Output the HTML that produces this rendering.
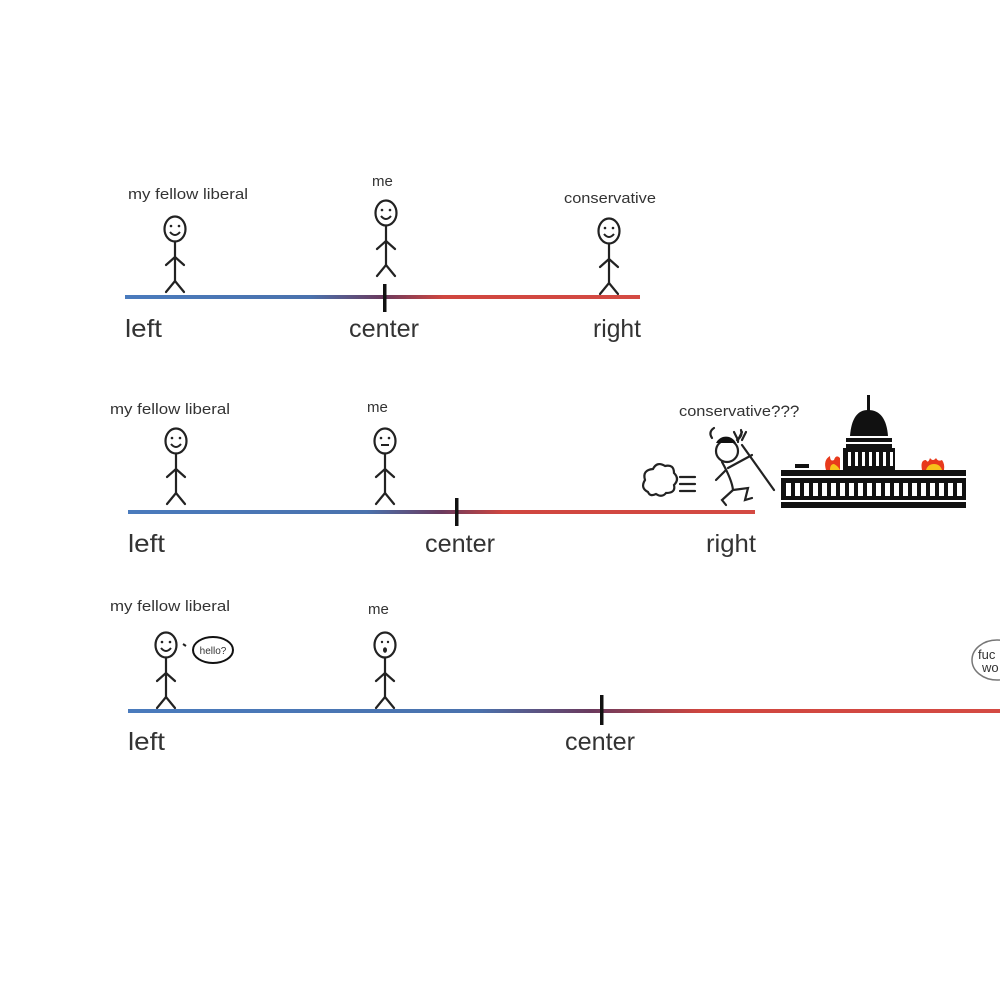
<!DOCTYPE html>
<html><head><meta charset="utf-8"><style>
html,body{margin:0;padding:0;background:#fff;}
svg{display:block}
text{font-family:"Liberation Sans",sans-serif;fill:#333}
</style></head><body>
<svg width="1000" height="1000" viewBox="0 0 1000 1000" xmlns="http://www.w3.org/2000/svg">
<defs>
<linearGradient id="g1" gradientUnits="userSpaceOnUse" x1="125" y1="0" x2="640" y2="0">
<stop offset="0" stop-color="#4a7bbd"/><stop offset="0.36" stop-color="#4a72ad"/><stop offset="0.5" stop-color="#6a3a5e"/><stop offset="0.62" stop-color="#d0463f"/><stop offset="1" stop-color="#d44a43"/></linearGradient>
<linearGradient id="g2" gradientUnits="userSpaceOnUse" x1="128" y1="0" x2="755" y2="0">
<stop offset="0" stop-color="#4a7bbd"/><stop offset="0.38" stop-color="#4a72ad"/><stop offset="0.5" stop-color="#6a3a5e"/><stop offset="0.6" stop-color="#d0463f"/><stop offset="1" stop-color="#d44a43"/></linearGradient>
<linearGradient id="g3" gradientUnits="userSpaceOnUse" x1="128" y1="0" x2="1000" y2="0">
<stop offset="0" stop-color="#4a7bbd"/><stop offset="0.4" stop-color="#4a72ad"/><stop offset="0.53" stop-color="#6a3a5e"/><stop offset="0.66" stop-color="#d0463f"/><stop offset="1" stop-color="#d44a43"/></linearGradient>
<g id="fig" stroke="#222" stroke-width="2.2" fill="none" stroke-linecap="round">
<ellipse cx="0" cy="0" rx="10.5" ry="12.5"/>
<line x1="0" y1="12.5" x2="0" y2="52"/>
<path d="M-9 36 L0 28 L9 36"/>
<path d="M-9 63 L0 52 L9 63"/>
</g>
<path id="smile" d="M-5 3 Q0 9 5 3" stroke="#222" stroke-width="2" fill="none"/>
</defs>

<!-- Panel 1 -->
<text x="128" y="199" font-size="15" textLength="120" lengthAdjust="spacingAndGlyphs">my fellow liberal</text>
<text x="372" y="186" font-size="15">me</text>
<text x="564" y="203" font-size="15" textLength="92" lengthAdjust="spacingAndGlyphs">conservative</text>
<g transform="translate(175,229)"><use href="#fig"/><use href="#smile"/><circle cx="-4" cy="-3" r="1.3" fill="#222"/><circle cx="4" cy="-3" r="1.3" fill="#222"/></g>
<g transform="translate(386,213)"><use href="#fig"/><use href="#smile"/><circle cx="-4" cy="-3" r="1.3" fill="#222"/><circle cx="4" cy="-3" r="1.3" fill="#222"/></g>
<g transform="translate(609,231)"><use href="#fig"/><use href="#smile"/><circle cx="-4" cy="-3" r="1.3" fill="#222"/><circle cx="4" cy="-3" r="1.3" fill="#222"/></g>
<rect x="125" y="295" width="515" height="4" fill="url(#g1)"/>
<rect x="383" y="284" width="3.5" height="28" fill="#111"/>
<text x="125" y="337" font-size="25" textLength="37" lengthAdjust="spacingAndGlyphs">left</text>
<text x="349" y="337" font-size="25" textLength="70" lengthAdjust="spacingAndGlyphs">center</text>
<text x="593" y="337" font-size="25" textLength="48" lengthAdjust="spacingAndGlyphs">right</text>

<!-- Panel 2 -->
<text x="110" y="414" font-size="15" textLength="120" lengthAdjust="spacingAndGlyphs">my fellow liberal</text>
<text x="367" y="412" font-size="15">me</text>
<text x="679" y="416" font-size="15" textLength="92" lengthAdjust="spacingAndGlyphs">conservative</text>
<text x="771" y="417" font-size="17" font-family="Liberation Serif">???</text>
<g transform="translate(176,441)"><use href="#fig"/><use href="#smile"/><circle cx="-4" cy="-3" r="1.3" fill="#222"/><circle cx="4" cy="-3" r="1.3" fill="#222"/></g>
<g transform="translate(385,441)"><use href="#fig"/><line x1="-4" y1="4" x2="4" y2="4" stroke="#222" stroke-width="2"/><circle cx="-4" cy="-3" r="1.3" fill="#222"/><circle cx="4" cy="-3" r="1.3" fill="#222"/></g>
<rect x="128" y="510" width="627" height="4" fill="url(#g2)"/>
<rect x="455" y="498" width="3.5" height="28" fill="#111"/>
<text x="128" y="552" font-size="25" textLength="37" lengthAdjust="spacingAndGlyphs">left</text>
<text x="425" y="552" font-size="25" textLength="70" lengthAdjust="spacingAndGlyphs">center</text>
<text x="706" y="552" font-size="25" textLength="50" lengthAdjust="spacingAndGlyphs">right</text>
<!-- cloud + running devil -->
<g stroke="#222" stroke-width="2.2" fill="none" stroke-linecap="round">
<path d="M648 492 q-8 -4 -3 -12 q-3 -10 8 -11 q4 -8 12 -3 q9 -2 9 7 q6 6 0 12 q2 8 -8 8 q-4 5 -10 1 q-6 3 -8 -2 z"/>
<path d="M680 477 h15 M680 484 h15 M680 491 h15"/>
<circle cx="727" cy="451" r="11"/>
<path d="M722 462 Q732 480 733 490 M733 490 L722 500 L726 505 M733 490 L748 488 L745 500 L752 498"/>
<path d="M726 470 L716 480 M728 468 L752 455"/>
<path d="M742 445 L774 490"/>
<path d="M734 432 l4 8 l4 -8 M738 440 l0 2 M746 432 l-4 8"/>
<path d="M712 438 q-4 -6 2 -10 M737 440 q6 -4 4 -10"/>
</g>
<path d="M716 443 a11 11 0 0 1 20 0 z" fill="#111"/>
<!-- capitol -->
<g fill="#111">
<rect x="867" y="395" width="3" height="16"/>
<path d="M850 436 Q852 410 868 410 Q886 410 888 436 Z"/>
<rect x="846" y="438" width="46" height="4"/>
<rect x="846" y="444" width="46" height="4"/>
<rect x="843" y="448" width="52" height="22"/>
<rect x="781" y="470" width="185" height="6"/>
<rect x="781" y="478" width="185" height="22"/>
<rect x="781" y="502" width="185" height="6"/>
<rect x="795" y="464" width="14" height="4"/>
</g>
<g fill="#fff">
<rect x="848" y="452" width="3" height="14"/><rect x="855" y="452" width="3" height="14"/><rect x="862" y="452" width="3" height="14"/><rect x="869" y="452" width="3" height="14"/><rect x="876" y="452" width="3" height="14"/><rect x="883" y="452" width="3" height="14"/><rect x="890" y="452" width="3" height="14"/>
<rect x="786" y="483" width="5" height="13"/><rect x="795" y="483" width="5" height="13"/><rect x="804" y="483" width="5" height="13"/><rect x="813" y="483" width="5" height="13"/><rect x="822" y="483" width="5" height="13"/><rect x="831" y="483" width="5" height="13"/><rect x="840" y="483" width="5" height="13"/><rect x="849" y="483" width="5" height="13"/><rect x="858" y="483" width="5" height="13"/><rect x="867" y="483" width="5" height="13"/><rect x="876" y="483" width="5" height="13"/><rect x="885" y="483" width="5" height="13"/><rect x="894" y="483" width="5" height="13"/><rect x="903" y="483" width="5" height="13"/><rect x="912" y="483" width="5" height="13"/><rect x="921" y="483" width="5" height="13"/><rect x="930" y="483" width="5" height="13"/><rect x="939" y="483" width="5" height="13"/><rect x="948" y="483" width="5" height="13"/><rect x="957" y="483" width="5" height="13"/>
</g>
<path d="M826 470 q-3 -10 4 -14 q0 6 4 4 q2 -6 6 -2 v12 z" fill="#e83a1c"/>
<path d="M830 470 q0 -6 4 -6 q4 2 6 6 z" fill="#f7c21a"/>
<path d="M922 470 q-2 -10 4 -10 q2 4 4 -2 q3 4 6 0 q2 4 6 2 q3 4 2 10 z" fill="#e83a1c"/>
<path d="M926 470 q2 -6 8 -6 q6 0 8 6 z" fill="#f7c21a"/>

<!-- Panel 3 -->
<text x="110" y="611" font-size="15" textLength="120" lengthAdjust="spacingAndGlyphs">my fellow liberal</text>
<text x="368" y="614" font-size="15">me</text>
<g transform="translate(166,645)"><use href="#fig"/><use href="#smile"/><circle cx="-4" cy="-3" r="1.3" fill="#222"/><circle cx="4" cy="-3" r="1.3" fill="#222"/></g>
<g transform="translate(385,645)"><use href="#fig"/><ellipse cx="0" cy="5" rx="2" ry="2.8" fill="#222"/><circle cx="-3" cy="-3" r="1.2" fill="#222"/><circle cx="3" cy="-3" r="1.2" fill="#222"/></g>
<line x1="183" y1="644" x2="186" y2="646" stroke="#222" stroke-width="2"/>
<ellipse cx="213" cy="650" rx="20" ry="13" fill="#fff" stroke="#111" stroke-width="2"/>
<text x="213" y="654" font-size="10" text-anchor="middle" fill="#111">hello?</text>
<ellipse cx="997" cy="660" rx="25" ry="20" fill="#fff" stroke="#777" stroke-width="1.5"/>
<text x="978" y="659" font-size="13" fill="#444">fuc</text>
<text x="982" y="672" font-size="13" fill="#444">wo</text>
<rect x="128" y="709" width="872" height="4" fill="url(#g3)"/>
<rect x="600" y="695" width="3.5" height="30" fill="#111"/>
<text x="128" y="750" font-size="25" textLength="37" lengthAdjust="spacingAndGlyphs">left</text>
<text x="565" y="750" font-size="25" textLength="70" lengthAdjust="spacingAndGlyphs">center</text>
</svg>
</body></html>
